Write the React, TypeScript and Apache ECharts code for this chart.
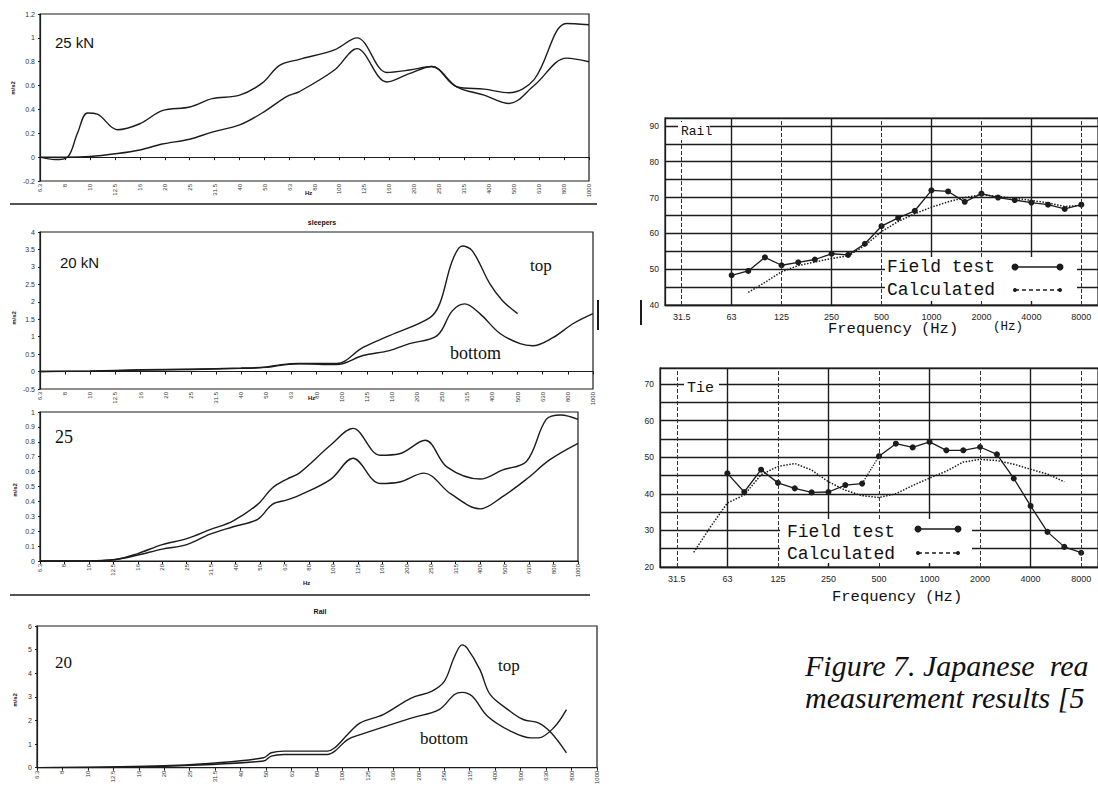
import React, { useEffect, useRef } from "react";
import * as echarts from "echarts";

// ---------- Left panels (acceleration spectra) ----------
const leftFreqLabels = ["6.3","8","10","12.5","16","20","25","31.5","40","50","63","80","100","125","160","200","250","315","400","500","630","800","1000"];

// panel 1 : 25 kN  [band position, m/s2]
const p1CurveA: [number, number][] = [[0,0],[0.6,-0.02],[1.1,0],[1.5,0.2],[1.9,0.37],[2.3,0.36],[3.1,0.23],[4,0.28],[4.9,0.39],[6,0.42],[6.9,0.49],[8,0.52],[8.9,0.62],[9.6,0.77],[10.4,0.82],[11.8,0.9],[12.7,1.0],[13.9,0.71],[14.8,0.73],[15.7,0.76],[16.7,0.59],[17.8,0.57],[18.8,0.54],[19.8,0.65],[21.1,1.12],[22,1.11]];
const p1CurveB: [number, number][] = [[0,0],[1,0],[2,0.005],[3.1,0.03],[4,0.06],[4.9,0.11],[6,0.15],[6.9,0.21],[8,0.27],[8.9,0.37],[9.9,0.51],[10.4,0.55],[11.8,0.73],[12.7,0.91],[13.9,0.63],[14.8,0.7],[15.7,0.76],[16.7,0.59],[17.8,0.52],[18.8,0.45],[19.8,0.6],[21.1,0.83],[22,0.8]];

// panel 2 : 20 kN sleepers
const p2Top: [number, number][] = [[0,0],[2,0.02],[4,0.05],[6,0.07],[8,0.1],[9,0.13],[9.6,0.2],[10.3,0.23],[11.8,0.23],[12.85,0.69],[13.9,1.03],[15.5,1.54],[15.9,1.94],[16.4,3.17],[16.8,3.6],[17.2,3.46],[17.9,2.51],[18.4,2.03],[19,1.66]];
const p2Bottom: [number, number][] = [[0,0],[2,0.01],[4,0.04],[6,0.06],[8,0.09],[9,0.12],[9.6,0.18],[10.3,0.22],[11.8,0.2],[12.85,0.46],[13.9,0.6],[14.7,0.8],[15.8,1.03],[16.4,1.74],[16.9,1.94],[17.5,1.66],[18.3,1.09],[19.1,0.8],[19.6,0.74],[20.4,0.97],[21.2,1.37],[22,1.66]];

// panel 3 : 25
const p3Upper: [number, number][] = [[0,0],[2,0],[3.1,0.01],[4,0.05],[5,0.11],[6,0.15],[6.95,0.21],[7.9,0.27],[8.9,0.38],[9.5,0.49],[10.1,0.55],[10.6,0.59],[11.9,0.78],[12.8,0.89],[13.9,0.71],[14.7,0.72],[15.75,0.81],[16.65,0.63],[18,0.55],[18.9,0.61],[19.9,0.67],[20.7,0.95],[21.3,0.98],[22,0.95]];
const p3Lower: [number, number][] = [[0,0],[2,0],[3.1,0.01],[4,0.04],[5,0.08],[6,0.11],[6.95,0.18],[7.9,0.23],[8.9,0.28],[9.5,0.38],[10.1,0.41],[10.6,0.44],[11.9,0.55],[12.8,0.69],[13.9,0.52],[14.7,0.53],[15.7,0.59],[16.8,0.45],[18,0.35],[18.9,0.43],[19.9,0.55],[20.85,0.68],[22,0.79]];

// panel 4 : 20 rail
const p4Top: [number, number][] = [[0,0],[4.7,0.07],[7,0.2],[8.9,0.42],[9.2,0.63],[9.7,0.7],[11.4,0.7],[11.7,0.84],[12.2,1.4],[12.7,1.9],[13.6,2.25],[14.7,2.95],[15.5,3.23],[16,3.65],[16.4,4.7],[16.7,5.2],[16.9,5.06],[17.4,4.15],[17.8,3.1],[18.5,2.46],[19.1,2.04],[19.7,1.9],[20.2,1.48],[20.8,0.63]];
const p4Bottom: [number, number][] = [[0,0],[4.7,0.05],[8.9,0.28],[9.2,0.49],[9.7,0.56],[11.4,0.56],[11.7,0.7],[12.2,1.19],[12.7,1.4],[14.7,2.1],[15.8,2.46],[16.4,3.1],[16.7,3.19],[17.1,3.02],[17.7,2.18],[18.6,1.55],[19.4,1.26],[19.7,1.26],[20.3,1.69],[20.8,2.46]];

// ---------- Right panels (Japanese measurements, dB) ----------
const bands = ["25","31.5","40","50","63","80","100","125","160","200","250","315","400","500","630","800","1000","1250","1600","2000","2500","3150","4000","5000","6300","8000","10000"];
const solidVerticals = ["63","250","1000","4000"];
const dashedVerticals = ["31.5","125","500","2000","8000"];

const railFieldBands = ["63","80","100","125","160","200","250","315","400","500","630","800","1000","1250","1600","2000","2500","3150","4000","5000","6300","8000"];
const railField = [48.3,49.5,53.3,51.1,51.9,52.7,54.3,54.0,57.1,62,64.3,66.3,72,71.7,68.8,71.1,70,69.3,68.6,68,66.8,68];
const railCalcBands = ["80","100","125","160","200","250","315","400","500","630","800","1000","1250","1600","2000","2500","3150","4000","5000","6300","8000"];
const railCalc = [43.5,46.3,49.3,51,52,53,53.7,56.6,60.5,63.3,65.5,67.3,68.8,70,70.8,70.3,69.8,69.2,68.5,67.5,67.8];

const tieFieldBands = ["63","80","100","125","160","200","250","315","400","500","630","800","1000","1250","1600","2000","2500","3150","4000","5000","6300","8000"];
const tieField = [45.6,40.5,46.6,43.0,41.5,40.4,40.5,42.4,42.8,50.3,53.7,52.7,54.2,51.9,51.9,52.8,50.8,44.2,36.7,29.6,25.5,23.9];
const tieCalcBands = ["40","50","63","80","100","125","160","200","250","315","400","500","630","800","1000","1250","1600","2000","2500","3150","4000","5000","6300"];
const tieCalc = [24,31,37.5,39.7,45.2,47.5,48.3,46.5,43.3,41,39.5,39,40,42.3,44.3,46.2,48.7,49.4,49.1,48.1,46.7,45.4,43.3];

const INK = "#1c1c1c";

function fmt1(v: number) {
  return String(Math.round(v * 10) / 10);
}

function buildOption(): any {
  const leftGrids = [
    { left: 40, top: 14, width: 549, height: 167 },
    { left: 40, top: 232, width: 553, height: 157 },
    { left: 40, top: 412, width: 538, height: 149 },
    { left: 37, top: 626, width: 560, height: 142 },
  ];
  const rightGrids = [
    { left: 665, top: 118, width: 438, height: 187 },
    { left: 660, top: 368, width: 439, height: 199 },
  ];
  const grid = [...leftGrids, ...rightGrids].map((g) => ({
    ...g,
    show: true,
    borderColor: INK,
    borderWidth: 1.2,
    backgroundColor: "transparent",
    containLabel: false,
  }));

  const leftY = [
    { min: -0.2, max: 1.2, interval: 0.2 },
    { min: -0.5, max: 4, interval: 0.5 },
    { min: 0, max: 1, interval: 0.1 },
    { min: 0, max: 6, interval: 1 },
  ];

  const xAxis: any[] = leftGrids.map((_, i) => ({
    gridIndex: i,
    type: "value",
    min: 0,
    max: 22,
    interval: 1,
    axisLine: { show: true, onZero: true, lineStyle: { color: INK, width: 1.2 } },
    axisTick: { show: true, length: 3, lineStyle: { color: INK } },
    axisLabel: {
      rotate: 90,
      fontSize: 6,
      color: "#333",
      margin: 3,
      formatter: (v: number) => leftFreqLabels[Math.round(v)] ?? "",
    },
    splitLine: { show: false },
  }));
  const yAxis: any[] = leftY.map((y, i) => ({
    gridIndex: i,
    type: "value",
    ...y,
    axisLine: { show: true, lineStyle: { color: INK, width: 1.2 } },
    axisTick: { show: true, length: 2, lineStyle: { color: INK } },
    axisLabel: { fontSize: 7, color: "#333", margin: 5, formatter: (v: number) => fmt1(v) },
    splitLine: { show: false },
  }));

  [4, 5].forEach((gi) => {
    xAxis.push({
      gridIndex: gi,
      type: "category",
      data: bands,
      boundaryGap: false,
      axisLine: { show: true, onZero: false, lineStyle: { color: INK, width: 1.3 } },
      axisTick: { show: false },
      axisLabel: {
        interval: (idx: number) => idx % 3 === 1,
        fontSize: 9,
        color: "#222",
        margin: 7,
        fontFamily: "Liberation Sans Narrow, Liberation Sans",
      },
      splitLine: { show: false },
    });
  });
  yAxis.push({
    gridIndex: 4,
    type: "value",
    min: 40,
    max: 92.2,
    interval: 5,
    axisLine: { show: true, lineStyle: { color: INK, width: 1.3 } },
    axisTick: { show: false },
    axisLabel: { fontSize: 8.5, color: "#222", margin: 6, formatter: (v: number) => (v % 10 === 0 && v <= 90 ? String(v) : "") },
    splitLine: { show: true, lineStyle: { color: INK, width: 1.3 } },
  });
  yAxis.push({
    gridIndex: 5,
    type: "value",
    min: 20,
    max: 74.4,
    interval: 5,
    axisLine: { show: true, lineStyle: { color: INK, width: 1.3 } },
    axisTick: { show: false },
    axisLabel: { fontSize: 8.5, color: "#222", margin: 6, formatter: (v: number) => (v % 10 === 0 && v <= 70 ? String(v) : "") },
    splitLine: { show: true, lineStyle: { color: INK, width: 1.3 } },
  });

  const leftLine = (data: [number, number][], i: number) => ({
    type: "line",
    xAxisIndex: i,
    yAxisIndex: i,
    data,
    smooth: 0.35,
    symbol: "none",
    lineStyle: { color: INK, width: 1.4 },
  });

  const verticalMarks = {
    silent: true,
    symbol: ["none", "none"],
    label: { show: false },
    lineStyle: { color: INK, width: 1.3 },
    data: [
      ...solidVerticals.map((b) => ({ xAxis: bands.indexOf(b), lineStyle: { type: "solid", width: 1.4, color: INK } })),
      ...dashedVerticals.map((b) => ({ xAxis: bands.indexOf(b), lineStyle: { type: "dashed", width: 1, color: "#333" } })),
    ],
  };

  const pairs = (bs: string[], vs: number[]) => bs.map((b, i) => [b, vs[i]]);

  const series: any[] = [
    leftLine(p1CurveA, 0),
    leftLine(p1CurveB, 0),
    leftLine(p2Top, 1),
    leftLine(p2Bottom, 1),
    leftLine(p3Upper, 2),
    leftLine(p3Lower, 2),
    leftLine(p4Top, 3),
    leftLine(p4Bottom, 3),
    {
      type: "line",
      xAxisIndex: 4,
      yAxisIndex: 4,
      data: pairs(railCalcBands, railCalc),
      symbol: "none",
      lineStyle: { color: INK, width: 1.5, type: "dotted" },
      markLine: verticalMarks,
    },
    {
      type: "line",
      xAxisIndex: 4,
      yAxisIndex: 4,
      data: pairs(railFieldBands, railField),
      symbol: "circle",
      symbolSize: 6,
      itemStyle: { color: INK },
      lineStyle: { color: INK, width: 1.3 },
    },
    {
      type: "line",
      xAxisIndex: 5,
      yAxisIndex: 5,
      data: pairs(tieCalcBands, tieCalc),
      symbol: "none",
      lineStyle: { color: INK, width: 1.5, type: "dotted" },
      markLine: verticalMarks,
    },
    {
      type: "line",
      xAxisIndex: 5,
      yAxisIndex: 5,
      data: pairs(tieFieldBands.slice(0, 9), tieField.slice(0, 9)),
      symbol: "circle",
      symbolSize: 6,
      itemStyle: { color: INK },
      lineStyle: { color: INK, width: 1.3 },
    },
    {
      type: "line",
      xAxisIndex: 5,
      yAxisIndex: 5,
      data: pairs(tieFieldBands.slice(8, 10), tieField.slice(8, 10)),
      symbol: "none",
      lineStyle: { color: INK, width: 1.3, type: "dotted" },
    },
    {
      type: "line",
      xAxisIndex: 5,
      yAxisIndex: 5,
      data: pairs(tieFieldBands.slice(9), tieField.slice(9)),
      symbol: "circle",
      symbolSize: 6,
      itemStyle: { color: INK },
      lineStyle: { color: INK, width: 1.3 },
    },
  ];

  const txt = (text: string, x: number, y: number, s: any = {}, extra: any = {}) => ({
    type: "text",
    x,
    y,
    z: 120,
    ...extra,
    style: {
      text,
      fill: "#111",
      fontSize: 12,
      fontFamily: "Liberation Sans",
      align: "left",
      verticalAlign: "middle",
      ...s,
    },
  });
  const hline = (x1: number, y: number, x2: number, w = 1.2, dash?: number[]) => ({
    type: "line",
    z: 115,
    shape: { x1, y1: y, x2, y2: y },
    style: { stroke: INK, lineWidth: w, lineDash: dash },
  });
  const vline = (x: number, y1: number, y2: number, w = 2) => ({
    type: "line",
    z: 115,
    shape: { x1: x, y1, x2: x, y2 },
    style: { stroke: INK, lineWidth: w },
  });
  const whiteBox = (x: number, y: number, width: number, height: number) => ({
    type: "rect",
    z: 110,
    shape: { x, y, width, height },
    style: { fill: "#ffffff" },
  });
  const dot = (cx: number, cy: number, r: number) => ({
    type: "circle",
    z: 116,
    shape: { cx, cy, r },
    style: { fill: INK },
  });

  const serif = "Liberation Serif, Times New Roman, serif";
  const mono = "Liberation Mono, DejaVu Sans Mono, monospace";
  const narrow = "Liberation Sans Narrow, Liberation Sans, sans-serif";
  const rot = { rotation: Math.PI / 2 };

  const graphic: any[] = [
    // separators
    hline(10, 204, 597, 1.3),
    hline(10, 595, 590, 1.3),
    // panel labels
    txt("25 kN", 55, 42, { fontSize: 15, fontFamily: narrow }),
    txt("Hz", 305, 193, { fontSize: 6, fontWeight: "bold" }),
    txt("sleepers", 322, 222, { fontSize: 7, fontWeight: "bold", align: "center" }),
    txt("20 kN", 60, 262, { fontSize: 15, fontFamily: narrow }),
    txt("top", 530, 265, { fontSize: 17, fontFamily: serif }),
    txt("bottom", 450, 353, { fontSize: 18, fontFamily: serif }),
    txt("Hz", 308, 398, { fontSize: 6, fontWeight: "bold" }),
    txt("25", 55, 437, { fontSize: 18, fontFamily: serif }),
    txt("Hz", 303, 583, { fontSize: 6, fontWeight: "bold" }),
    txt("Rail", 320, 611, { fontSize: 7, fontWeight: "bold", align: "center" }),
    txt("20", 55, 662, { fontSize: 17, fontFamily: serif }),
    txt("top", 498, 665, { fontSize: 17, fontFamily: serif }),
    txt("bottom", 420, 738, { fontSize: 17, fontFamily: serif }),
    // y-axis names
    txt("m/s2", 13, 88, { fontSize: 6, fontWeight: "bold", align: "center" }, rot),
    txt("m/s2", 14, 318, { fontSize: 6, fontWeight: "bold", align: "center" }, rot),
    txt("m/s2", 15, 490, { fontSize: 6, fontWeight: "bold", align: "center" }, rot),
    txt("m/s2", 15, 700, { fontSize: 6, fontWeight: "bold", align: "center" }, rot),
    // scan marks
    vline(598, 300, 330, 2),
    vline(641, 300, 325, 2),
    // Rail panel annotations
    whiteBox(678, 122, 32, 18),
    txt("Rail", 681, 131, { fontSize: 13, fontFamily: mono }),
    whiteBox(885, 257, 192, 44),
    txt("Field test", 887, 267, { fontSize: 18, fontFamily: mono }),
    txt("Calculated", 887, 290, { fontSize: 18, fontFamily: mono }),
    hline(1015, 267, 1060, 1.6),
    dot(1015, 267, 3.5),
    dot(1060, 267, 3.5),
    hline(1015, 290, 1060, 1.4, [4, 3]),
    dot(1015, 290, 2),
    dot(1060, 290, 2),
    txt("Frequency (Hz)", 828, 329, { fontSize: 15.5, fontFamily: mono }),
    txt("(Hz)", 993, 327, { fontSize: 12.5, fontFamily: mono }),
    // Tie panel annotations
    whiteBox(684, 379, 35, 18),
    txt("Tie", 687, 388, { fontSize: 15, fontFamily: mono }),
    whiteBox(780, 519, 192, 44),
    txt("Field test", 787, 532, { fontSize: 18, fontFamily: mono }),
    txt("Calculated", 787, 554, { fontSize: 18, fontFamily: mono }),
    hline(918, 529, 958, 1.6),
    dot(918, 529, 3.5),
    dot(958, 529, 3.5),
    hline(918, 553, 958, 1.4, [4, 3]),
    dot(918, 553, 2),
    dot(958, 553, 2),
    txt("Frequency (Hz)", 832, 597, { fontSize: 15.5, fontFamily: mono }),
    // caption
    txt("Figure 7. Japanese  rea", 805, 665, { fontSize: 30, fontFamily: serif, fontStyle: "italic" }),
    txt("measurement results [5", 805, 697, { fontSize: 30, fontFamily: serif, fontStyle: "italic" }),
  ];

  return {
    animation: false,
    backgroundColor: "#ffffff",
    textStyle: { fontFamily: "Liberation Sans" },
    grid,
    xAxis,
    yAxis,
    series,
    graphic,
  };
}

export default function App() {
  const ref = useRef<HTMLDivElement>(null);
  useEffect(() => {
    if (!ref.current) return;
    const chart = echarts.init(ref.current, null, { renderer: "svg" });
    chart.setOption(buildOption());
    return () => chart.dispose();
  }, []);
  return (
    <div
      ref={ref}
      style={{ position: "absolute", left: 0, top: 0, width: 1098, height: 787, background: "#fff" }}
    />
  );
}
